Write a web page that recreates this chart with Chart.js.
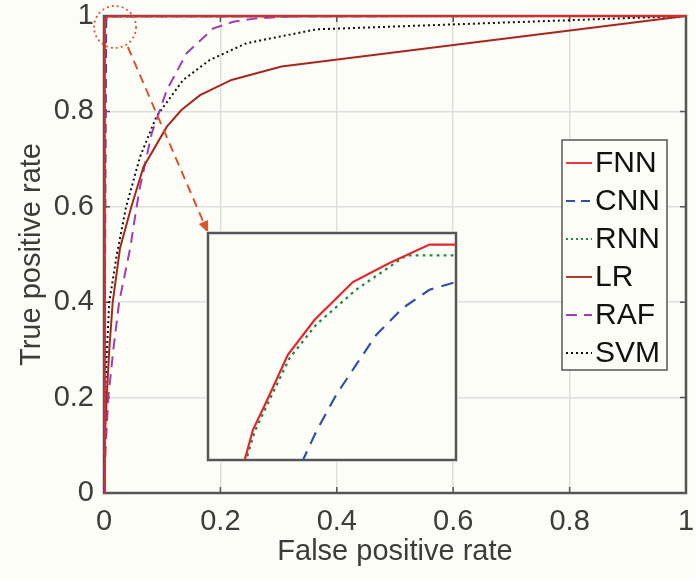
<!DOCTYPE html>
<html>
<head>
<meta charset="utf-8">
<script src="https://cdn.jsdelivr.net/npm/chart.js@4/dist/chart.umd.min.js"></script>
<style>
  html, body { margin: 0; padding: 0; background: #fdfdf8; }
  #wrap { position: relative; width: 696px; height: 580px; }
  #main { position: absolute; left: 0; top: 0; }
  #inset { position: absolute; }
</style>
</head>
<body>
<div id="wrap">
  <canvas id="main" width="696" height="580"></canvas>
  <canvas id="inset"></canvas>
</div>
<script>
// ROC curves
const modelNames = ['FNN', 'CNN', 'RNN', 'LR', 'RAF', 'SVM'];

const fnnFpr = [0, 0.00148, 0.00181, 0.00242, 0.00322, 0.0043, 0.00584, 0.00732, 0.00893, 1];
const fnnTpr = [0, 0.99, 0.99132, 0.99272, 0.99463, 0.99618, 0.99784, 0.99868, 0.99949, 1];

const cnnFpr = [0, 0.00383, 0.00436, 0.00517, 0.00597, 0.00678, 0.00785, 0.00893, 0.01, 0.015, 0.025, 1];
const cnnTpr = [0, 0.99, 0.99125, 0.99287, 0.99419, 0.99551, 0.99669, 0.9975, 0.99784, 0.9988, 0.9995, 1];

const rnnFpr = [0, 0.00154, 0.00188, 0.00248, 0.00329, 0.00436, 0.00597, 0.00799, 1];
const rnnTpr = [0, 0.99, 0.99125, 0.99265, 0.99449, 0.99596, 0.9975, 0.99901, 1];

const lrFpr = [0, 0.001, 0.0046, 0.009, 0.015, 0.0275, 0.047, 0.068, 0.108, 0.133, 0.165, 0.219, 0.305, 1];
const lrTpr = [0, 0.1, 0.2, 0.3, 0.4, 0.513, 0.6, 0.684, 0.768, 0.803, 0.834, 0.866, 0.894, 1];

const rafFpr = [0, 0.003, 0.0074, 0.016, 0.026, 0.045, 0.056, 0.062, 0.082, 0.108, 0.142, 0.188, 0.222, 0.262, 0.33, 1];
const rafTpr = [0, 0.1, 0.2, 0.3, 0.4, 0.513, 0.6, 0.642, 0.754, 0.845, 0.922, 0.974, 0.988, 0.995, 1, 1];

const svmFpr = [0, 0.0005, 0.0017, 0.005, 0.009, 0.022, 0.038, 0.062, 0.09, 0.136, 0.182, 0.245, 0.365, 1];
const svmTpr = [0, 0.1, 0.2, 0.3, 0.4, 0.5, 0.6, 0.705, 0.789, 0.866, 0.908, 0.943, 0.972, 1];

const axisTicks = [0, 0.2, 0.4, 0.6, 0.8, 1];
const axisTickLabels = ['0', '0.2', '0.4', '0.6', '0.8', '1'];

// zoom window shown in the inset
const zoomFpr = [0, 0.01];
const zoomTpr = [0.99, 1];
// where the inset sits, in main-axis units: [xmin, xmax, ymin, ymax]
const insetPlace = [0.179, 0.605, 0.069, 0.545];
// dotted marker circle centre (main-axis units)
const markCentre = [0.019, 0.977];

const BG = '#fdfdf8';
const FONT = '"Liberation Sans", Arial, Helvetica, sans-serif';
Chart.defaults.font.family = FONT;

const styles = [
  { color: '#e3262e', dash: [] },
  { color: '#2f52a4', dash: [9, 6] },
  { color: '#1e8a3c', dash: [2, 3] },
  { color: '#a3291f', dash: [] },
  { color: '#a23db2', dash: [11, 7] },
  { color: '#111111', dash: [2, 3] }
];
const fprs = [fnnFpr, cnnFpr, rnnFpr, lrFpr, rafFpr, svmFpr];
const tprs = [fnnTpr, cnnTpr, rnnTpr, lrTpr, rafTpr, svmTpr];

function pts(xs, ys) {
  return xs.map((x, i) => ({ x: x, y: ys[i] }));
}

function makeSets(which, lw, dashScale) {
  return which.map(i => ({
    label: modelNames[i],
    data: pts(fprs[i], tprs[i]),
    borderColor: styles[i].color,
    borderDash: styles[i].dash.map(d => d * dashScale),
    borderWidth: lw,
    pointRadius: 0,
    tension: 0,
    fill: false
  }));
}

const bgPlugin = {
  id: 'bg',
  beforeDraw(chart) {
    const c = chart.ctx;
    c.save();
    c.fillStyle = BG;
    c.fillRect(0, 0, chart.width, chart.height);
    c.restore();
  }
};

// matlab style box with inward ticks
const boxPlugin = {
  id: 'box',
  beforeDatasetsDraw(chart, args, opts) {
    const { ctx, chartArea: a } = chart;
    ctx.save();
    ctx.strokeStyle = '#555';
    ctx.lineWidth = opts.width || 2.5;
    ctx.strokeRect(a.left, a.top, a.right - a.left, a.bottom - a.top);
    if (opts.ticks) {
      ctx.lineWidth = 1.5;
      const xs = chart.scales.x, ys = chart.scales.y;
      ctx.beginPath();
      xs.ticks.forEach(t => {
        const p = xs.getPixelForValue(t.value);
        ctx.moveTo(p, a.bottom); ctx.lineTo(p, a.bottom - 6);
        ctx.moveTo(p, a.top); ctx.lineTo(p, a.top + 6);
      });
      ys.ticks.forEach(t => {
        const p = ys.getPixelForValue(t.value);
        ctx.moveTo(a.left, p); ctx.lineTo(a.left + 6, p);
        ctx.moveTo(a.right, p); ctx.lineTo(a.right - 6, p);
      });
      ctx.stroke();
    }
    ctx.restore();
  }
};

// zoom marker, arrow and legend
const notePlugin = {
  id: 'notes',
  afterDraw(chart) {
    const { ctx, chartArea: a } = chart;
    const xs = chart.scales.x, ys = chart.scales.y;
    ctx.save();
    // dotted circle
    const cx = xs.getPixelForValue(markCentre[0]);
    const cy = ys.getPixelForValue(markCentre[1]);
    ctx.strokeStyle = '#e0573a';
    ctx.lineWidth = 1.8;
    ctx.setLineDash([2, 3]);
    ctx.beginPath();
    ctx.arc(cx, cy, 21, 0, Math.PI * 2);
    ctx.stroke();
    // dashed arrow to the inset corner
    const x0 = xs.getPixelForValue(0.041), y0 = ys.getPixelForValue(0.935);
    const x1 = xs.getPixelForValue(insetPlace[0]), y1 = ys.getPixelForValue(insetPlace[3]);
    const ang = Math.atan2(y1 - y0, x1 - x0);
    ctx.strokeStyle = '#d9552c';
    ctx.lineWidth = 2;
    ctx.setLineDash([9, 6]);
    ctx.beginPath();
    ctx.moveTo(x0, y0);
    ctx.lineTo(x1 - 10 * Math.cos(ang), y1 - 10 * Math.sin(ang));
    ctx.stroke();
    ctx.setLineDash([]);
    ctx.fillStyle = '#d9552c';
    ctx.beginPath();
    ctx.moveTo(x1, y1);
    ctx.lineTo(x1 - 12 * Math.cos(ang) + 5 * Math.sin(ang), y1 - 12 * Math.sin(ang) - 5 * Math.cos(ang));
    ctx.lineTo(x1 - 12 * Math.cos(ang) - 5 * Math.sin(ang), y1 - 12 * Math.sin(ang) + 5 * Math.cos(ang));
    ctx.closePath();
    ctx.fill();

    // legend box
    const lx = a.right - 124, ly = a.top + 124, lw = 105, lh = 230;
    ctx.fillStyle = BG;
    ctx.fillRect(lx, ly, lw, lh);
    ctx.strokeStyle = '#555';
    ctx.lineWidth = 1.5;
    ctx.strokeRect(lx, ly, lw, lh);
    ctx.font = '30px ' + FONT;
    ctx.textBaseline = 'middle';
    ctx.textAlign = 'left';
    chart.data.datasets.forEach((ds, i) => {
      const ry = ly + 23 + i * 38;
      ctx.strokeStyle = ds.borderColor;
      ctx.lineWidth = 1.8;
      ctx.setLineDash(ds.borderDash);
      ctx.beginPath();
      ctx.moveTo(lx + 4, ry);
      ctx.lineTo(lx + 30, ry);
      ctx.stroke();
      ctx.setLineDash([]);
      ctx.fillStyle = '#111';
      ctx.fillText(ds.label, lx + 33, ry + 1);
    });
    ctx.restore();
  }
};

const gridOpts = { color: '#dedede', lineWidth: 1.5, drawTicks: false };
const tickFont = { size: 29 };
const tickText = (v) => axisTickLabels[axisTicks.indexOf(+(+v).toFixed(1))] || String(v);

const mainChart = new Chart(document.getElementById('main'), {
  type: 'line',
  data: { datasets: makeSets([0, 1, 2, 3, 4, 5], 2, 1).map(d => Object.assign(d, { clip: 4 })) },
  options: {
    responsive: false,
    animation: false,
    layout: { padding: { top: 16, right: 10, left: 0, bottom: 0 } },
    plugins: { legend: { display: false }, tooltip: { enabled: false }, box: { ticks: true } },
    scales: {
      x: {
        type: 'linear', min: 0, max: 1,
        afterBuildTicks: s => { s.ticks = axisTicks.map(v => ({ value: v })); },
        grid: gridOpts,
        border: { display: false },
        ticks: { color: '#3c3c3c', font: tickFont, padding: 12, maxRotation: 0, callback: tickText },
        title: { display: true, text: 'False positive rate', color: '#3c3c3c', font: { size: 29 }, padding: { top: 0, bottom: 11 } },
        afterFit: s => { s.height = 87; s.paddingLeft = 0; s.paddingRight = 0; }
      },
      y: {
        type: 'linear', min: 0, max: 1,
        afterBuildTicks: s => { s.ticks = axisTicks.map(v => ({ value: v })); },
        grid: gridOpts,
        border: { display: false },
        ticks: { color: '#3c3c3c', font: tickFont, padding: 10, callback: tickText },
        title: { display: true, text: 'True positive rate', color: '#3c3c3c', font: { size: 29 }, padding: { top: 15, bottom: 0 } },
        afterFit: s => { s.width = 104; s.paddingTop = 0; s.paddingBottom = 0; }
      }
    }
  },
  plugins: [bgPlugin, boxPlugin, notePlugin]
});

// inset: zoom of the top-left corner
const mx = mainChart.scales.x, my = mainChart.scales.y;
const il = Math.round(mx.getPixelForValue(insetPlace[0]));
const ir = Math.round(mx.getPixelForValue(insetPlace[1]));
const it = Math.round(my.getPixelForValue(insetPlace[3]));
const ib = Math.round(my.getPixelForValue(insetPlace[2]));
const insetCanvas = document.getElementById('inset');
insetCanvas.width = ir - il + 4;
insetCanvas.height = ib - it + 4;
insetCanvas.style.left = (il - 2) + 'px';
insetCanvas.style.top = (it - 2) + 'px';

new Chart(insetCanvas, {
  type: 'line',
  data: { datasets: makeSets([0, 1, 2], 2.2, 1.4) },
  options: {
    responsive: false,
    animation: false,
    layout: { padding: 2 },
    plugins: { legend: { display: false }, tooltip: { enabled: false }, box: { width: 2.5 } },
    scales: {
      x: { type: 'linear', min: zoomFpr[0], max: zoomFpr[1], display: false },
      y: { type: 'linear', min: zoomTpr[0], max: zoomTpr[1], display: false }
    }
  },
  plugins: [bgPlugin, boxPlugin]
});
</script>
</body>
</html>
